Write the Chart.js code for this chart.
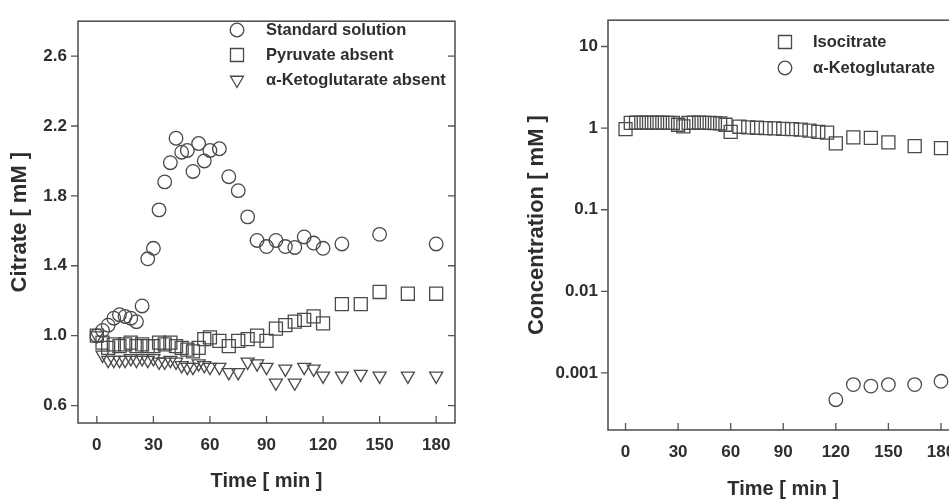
<!DOCTYPE html>
<html><head><meta charset="utf-8">
<script src="https://cdn.jsdelivr.net/npm/chart.js@4/dist/chart.umd.min.js"></script>
<style>
html,body{margin:0;padding:0;background:#fff;overflow:hidden;width:949px;height:499px;position:relative;}
#c1{position:absolute;left:0;top:0;}
#c2{position:absolute;left:480px;top:0;}
</style></head><body>
<canvas id="c1" width="480" height="499"></canvas>
<canvas id="c2" width="490" height="499"></canvas>
<script>
// ---- tick labels ----
const timeTicks = [0,30,60,90,120,150,180];
const citrateTicks = [0.6,1.0,1.4,1.8,2.2,2.6];
const concTicks = [0.001,0.01,0.1,1,10];

// ---- left panel: citrate ----
const stdTime = [0,3,6,9,12,15,18,21,24,27,30,33,36,39,42,45,48,51,54,57,60,65,70,75,80,85,90,95,100,105,110,115,120,130,150,180];
const stdCitrate = [1.00,1.03,1.06,1.10,1.12,1.11,1.10,1.08,1.17,1.44,1.50,1.72,1.88,1.99,2.13,2.05,2.06,1.94,2.10,2.00,2.06,2.07,1.91,1.83,1.68,1.545,1.51,1.545,1.51,1.505,1.565,1.53,1.50,1.525,1.58,1.525];

const pyrTime = [0,3,6,9,12,15,18,21,24,27,30,33,36,39,42,45,48,51,54,57,60,65,70,75,80,85,90,95,100,105,110,115,120,130,140,150,165,180];
const pyrCitrate = [1.00,0.96,0.93,0.95,0.94,0.95,0.96,0.94,0.95,0.94,0.94,0.96,0.95,0.96,0.94,0.93,0.92,0.91,0.93,0.98,0.99,0.97,0.94,0.97,0.98,1.00,0.97,1.04,1.06,1.08,1.09,1.11,1.07,1.18,1.18,1.25,1.24,1.24];

const akgTime = [0,3,6,9,12,15,18,21,24,27,30,33,36,39,42,45,48,51,54,57,60,65,70,75,80,85,90,95,100,105,110,115,120,130,140,150,165,180];
const akgCitrate = [1.00,0.89,0.86,0.86,0.86,0.86,0.87,0.86,0.87,0.86,0.87,0.85,0.85,0.86,0.85,0.83,0.82,0.82,0.84,0.83,0.82,0.82,0.79,0.79,0.85,0.84,0.82,0.73,0.81,0.73,0.82,0.81,0.77,0.77,0.78,0.77,0.77,0.77];

// ---- right panel: concentrations ----
const isoTime = [0,3,6,9,12,15,18,21,24,27,30,33,36,39,42,45,48,51,54,57,60,65,70,75,80,85,90,95,100,105,110,115,120,130,140,150,165,180];
const isoConc = [0.97,1.16,1.17,1.17,1.17,1.17,1.17,1.17,1.16,1.16,1.10,1.05,1.16,1.17,1.17,1.16,1.16,1.15,1.14,1.10,0.90,1.04,1.02,1.01,1.00,0.99,0.98,0.97,0.96,0.93,0.90,0.88,0.65,0.77,0.76,0.67,0.60,0.57];

const kgTime = [120,130,140,150,165,180];
const kgConc = [0.00047,0.00072,0.00069,0.00072,0.00072,0.00079];

// ---- helpers ----
const FONT = "'Liberation Sans', Arial, sans-serif";
const INK = '#4a4a4a';
const TXT = '#2e2e2e';
Chart.defaults.font.family = FONT;
Chart.defaults.color = TXT;

function pts(xs, ys){ return xs.map((x,i)=>({x:x, y:ys[i]})); }

function drawSymbol(ctx, style, rot, x, y, r){
  ctx.beginPath();
  if(style === 'circle'){ ctx.arc(x,y,r,0,Math.PI*2); }
  else if(style === 'rect'){ const s = r*Math.SQRT1_2; ctx.rect(x-s,y-s,2*s,2*s); }
  else if(style === 'triangle'){
    let a = (rot||0)*Math.PI/180;
    ctx.moveTo(x+Math.sin(a)*r, y-Math.cos(a)*r);
    a += 2*Math.PI/3; ctx.lineTo(x+Math.sin(a)*r, y-Math.cos(a)*r);
    a += 2*Math.PI/3; ctx.lineTo(x+Math.sin(a)*r, y-Math.cos(a)*r);
    ctx.closePath();
  }
  ctx.stroke();
}

const frameTicks = {
  id:'frameTicks',
  afterDraw(chart){
    const {ctx, chartArea:a, scales:{x,y}} = chart;
    ctx.save();
    ctx.strokeStyle = '#555'; ctx.lineWidth = 1.6;
    ctx.strokeRect(a.left, a.top, a.right-a.left, a.bottom-a.top);
    ctx.lineWidth = 1.3;
    ctx.beginPath();
    x.ticks.forEach(t=>{const px=x.getPixelForValue(t.value); ctx.moveTo(px,a.bottom); ctx.lineTo(px,a.bottom-7);});
    y.ticks.forEach(t=>{const py=y.getPixelForValue(t.value);
      ctx.moveTo(a.left-7,py); ctx.lineTo(a.left,py);
      ctx.moveTo(a.right,py); ctx.lineTo(a.right-7,py);});
    ctx.stroke();
    ctx.restore();
  }
};

const boxLegend = {
  id:'boxLegend',
  afterDraw(chart, args, o){
    const ctx = chart.ctx;
    ctx.save();
    ctx.strokeStyle = INK; ctx.lineWidth = 1.3;
    ctx.fillStyle = TXT;
    ctx.font = "bold 16.5px " + FONT;
    ctx.textBaseline = 'middle'; ctx.textAlign = 'left';
    chart.data.datasets.forEach((ds,i)=>{
      const y = o.y0 + i*o.dy;
      drawSymbol(ctx, ds.pointStyle, ds.pointRotation||0, o.symX, y, ds.pointRadius);
      ctx.fillText(ds.label, o.textX, y);
    });
    ctx.restore();
  }
};

function ds(label, xs, ys, style, r, rot){
  return {label, data: pts(xs,ys), pointStyle: style, pointRadius: r, pointRotation: rot||0,
    borderColor: INK, backgroundColor: 'rgba(0,0,0,0)', pointBorderWidth: 1.3, showLine:false};
}

const tickFont = {size: 17, weight: 'bold', lineHeight: 1.2};
const titleFont = {size: 20, weight: 'bold', lineHeight: 1.0};
const yTitleFont = {size: 22, weight: 'bold', lineHeight: 1.0};

// ---- left chart ----
new Chart(document.getElementById('c1'), {
  type: 'scatter',
  data: { datasets: [
    ds('Standard solution', stdTime, stdCitrate, 'circle', 6.8),
    ds('Pyruvate absent', pyrTime, pyrCitrate, 'rect', 9.2),
    ds('α-Ketoglutarate absent', akgTime, akgCitrate, 'triangle', 7.5, 180)
  ]},
  options: {
    responsive: false, animation: false, events: [],
    layout: {padding: {top: 15, right: 25, left: 0, bottom: 0}},
    plugins: {legend:{display:false}, tooltip:{enabled:false},
      boxLegend: {symX: 237, textX: 266, y0: 30, dy: 25}},
    scales: {
      x: {type:'linear', min:-10, max:190,
        afterBuildTicks: s => { s.ticks = timeTicks.map(v=>({value:v})); },
        afterFit: s => { s.height = 76; },
        grid:{display:false, drawTicks:false}, border:{display:false},
        ticks:{font:tickFont, padding:12, color:TXT, maxRotation:0, autoSkip:false, callback: v => String(v)},
        title:{display:true, text:'Time [ min ]', font:titleFont, color:TXT, padding:{top:0,bottom:8}}},
      y: {type:'linear', min:0.5, max:2.8,
        afterBuildTicks: s => { s.ticks = citrateTicks.map(v=>({value:v})); },
        afterFit: s => { s.width = 78; },
        grid:{display:false, drawTicks:false}, border:{display:false},
        ticks:{font:tickFont, padding:11, color:TXT, autoSkip:false, callback: v => v.toFixed(1)},
        title:{display:true, text:'Citrate [ mM ]', font:yTitleFont, color:TXT, padding:{top:9,bottom:0}}}
    }
  },
  plugins: [frameTicks, boxLegend]
});

// ---- right chart ----
new Chart(document.getElementById('c2'), {
  type: 'scatter',
  data: { datasets: [
    ds('Isocitrate', isoTime, isoConc, 'rect', 9.2),
    ds('α-Ketoglutarate', kgTime, kgConc, 'circle', 6.8)
  ]},
  options: {
    responsive: false, animation: false, events: [],
    layout: {padding: {top: 15, right: 11.5, left: 0, bottom: 0}},
    plugins: {legend:{display:false}, tooltip:{enabled:false},
      boxLegend: {symX: 305, textX: 333, y0: 42, dy: 26}},
    scales: {
      x: {type:'linear', min:-10, max:190,
        afterBuildTicks: s => { s.ticks = timeTicks.map(v=>({value:v})); },
        afterFit: s => { s.height = 69; },
        grid:{display:false, drawTicks:false}, border:{display:false},
        ticks:{font:tickFont, padding:12, color:TXT, maxRotation:0, autoSkip:false, callback: v => String(v)},
        title:{display:true, text:'Time [ min ]', font:titleFont, color:TXT, padding:{top:0,bottom:0}}},
      y: {type:'logarithmic', min:0.0002, max:21,
        afterBuildTicks: s => { s.ticks = concTicks.map(v=>({value:v})); },
        afterFit: s => { s.width = 128; },
        grid:{display:false, drawTicks:false}, border:{display:false},
        ticks:{font:tickFont, padding:10, color:TXT, autoSkip:false, callback: v => String(v)},
        title:{display:true, text:'Concentration [ mM ]', font:yTitleFont, color:TXT, padding:{top:46,bottom:0}}}
    }
  },
  plugins: [frameTicks, boxLegend]
});
</script>
</body></html>
